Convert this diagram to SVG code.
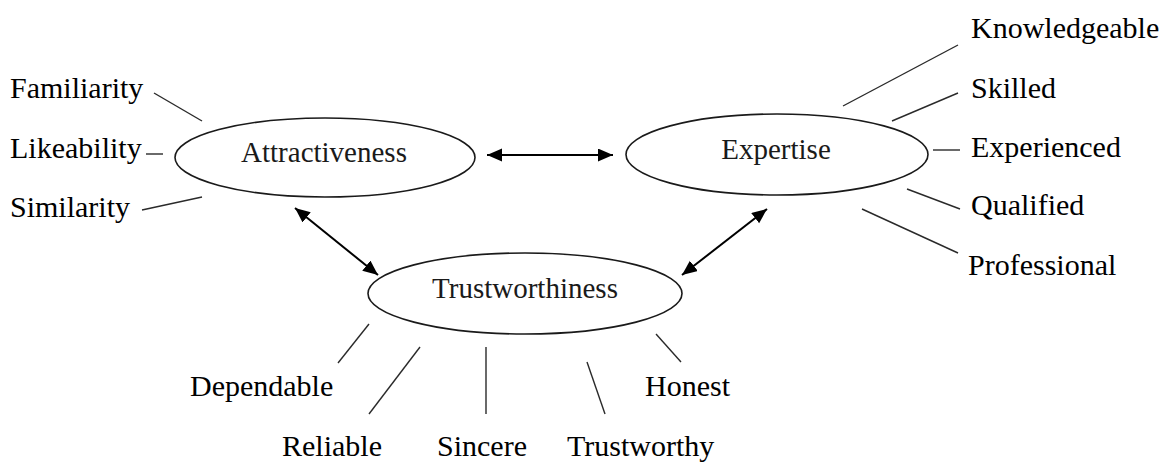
<svg xmlns="http://www.w3.org/2000/svg" width="1162" height="462" viewBox="0 0 1162 462">
  <style>
    .bg { fill: #ffffff; }
    .node { fill: #ffffff; stroke: #1a1a1a; stroke-width: 1.6; }
    .inner { font-family: 'Liberation Serif', 'Times New Roman', 'DejaVu Serif', serif; font-size: 29px; fill: #1a1a1a; text-anchor: middle; }
    .label { font-family: 'Liberation Serif', 'Times New Roman', 'DejaVu Serif', serif; font-size: 30px; fill: #000000; }
    .spoke { stroke: #2a2a2a; stroke-width: 1.4; fill: none; }
    .arrow { stroke: #000000; stroke-width: 2; fill: none; marker-start: url(#head); marker-end: url(#head); }
  </style>
  <defs>
    <marker id="head" markerUnits="userSpaceOnUse" markerWidth="16" markerHeight="14" refX="15" refY="6.5" orient="auto-start-reverse">
      <path d="M0,0 L15,6.5 L0,13 z" fill="#000000"/>
    </marker>
  </defs>
  <rect class="bg" x="0" y="0" width="1162" height="462"/>

  <g id="connectors">
    <line class="arrow" x1="487" y1="155" x2="613" y2="155"/>
    <line class="arrow" x1="295" y1="208" x2="378" y2="275"/>
    <line class="arrow" x1="767" y1="209" x2="682" y2="275"/>
    <line class="spoke" x1="154" y1="93" x2="202" y2="121"/>
    <line class="spoke" x1="146" y1="154" x2="163" y2="154"/>
    <line class="spoke" x1="142" y1="210" x2="202" y2="197"/>
    <line class="spoke" x1="843" y1="106" x2="958" y2="45"/>
    <line class="spoke" x1="892" y1="121" x2="958" y2="93"/>
    <line class="spoke" x1="933" y1="150" x2="960" y2="150"/>
    <line class="spoke" x1="907" y1="189" x2="960" y2="209"/>
    <line class="spoke" x1="862" y1="209" x2="958" y2="253"/>
    <line class="spoke" x1="369" y1="324" x2="338" y2="363"/>
    <line class="spoke" x1="420" y1="347" x2="369" y2="414"/>
    <line class="spoke" x1="486" y1="347" x2="486" y2="414"/>
    <line class="spoke" x1="587" y1="362" x2="605" y2="414"/>
    <line class="spoke" x1="656" y1="334" x2="681" y2="362"/>
  </g>

  <g id="attractiveness">
    <ellipse class="node" cx="325" cy="157.5" rx="150" ry="39.5"/>
    <text class="inner" x="324" y="162">Attractiveness</text>
  </g>
  <g id="expertise">
    <ellipse class="node" cx="777" cy="154.5" rx="151" ry="40.5"/>
    <text class="inner" x="776" y="159">Expertise</text>
  </g>
  <g id="trustworthiness">
    <ellipse class="node" cx="525" cy="293.5" rx="157" ry="40.5"/>
    <text class="inner" x="525" y="298">Trustworthiness</text>
  </g>

  <g id="label-familiarity"><text class="label" x="10" y="98">Familiarity</text></g>
  <g id="label-likeability"><text class="label" x="10" y="158">Likeability</text></g>
  <g id="label-similarity"><text class="label" x="10" y="217">Similarity</text></g>

  <g id="label-knowledgeable"><text class="label" x="971" y="38">Knowledgeable</text></g>
  <g id="label-skilled"><text class="label" x="971" y="98">Skilled</text></g>
  <g id="label-experienced"><text class="label" x="971" y="157">Experienced</text></g>
  <g id="label-qualified"><text class="label" x="971" y="215">Qualified</text></g>
  <g id="label-professional"><text class="label" x="968" y="275">Professional</text></g>

  <g id="label-dependable"><text class="label" x="190" y="396">Dependable</text></g>
  <g id="label-honest"><text class="label" x="645" y="396">Honest</text></g>
  <g id="label-reliable"><text class="label" x="282" y="456">Reliable</text></g>
  <g id="label-sincere"><text class="label" x="437" y="456">Sincere</text></g>
  <g id="label-trustworthy"><text class="label" x="567" y="456">Trustworthy</text></g>
</svg>
